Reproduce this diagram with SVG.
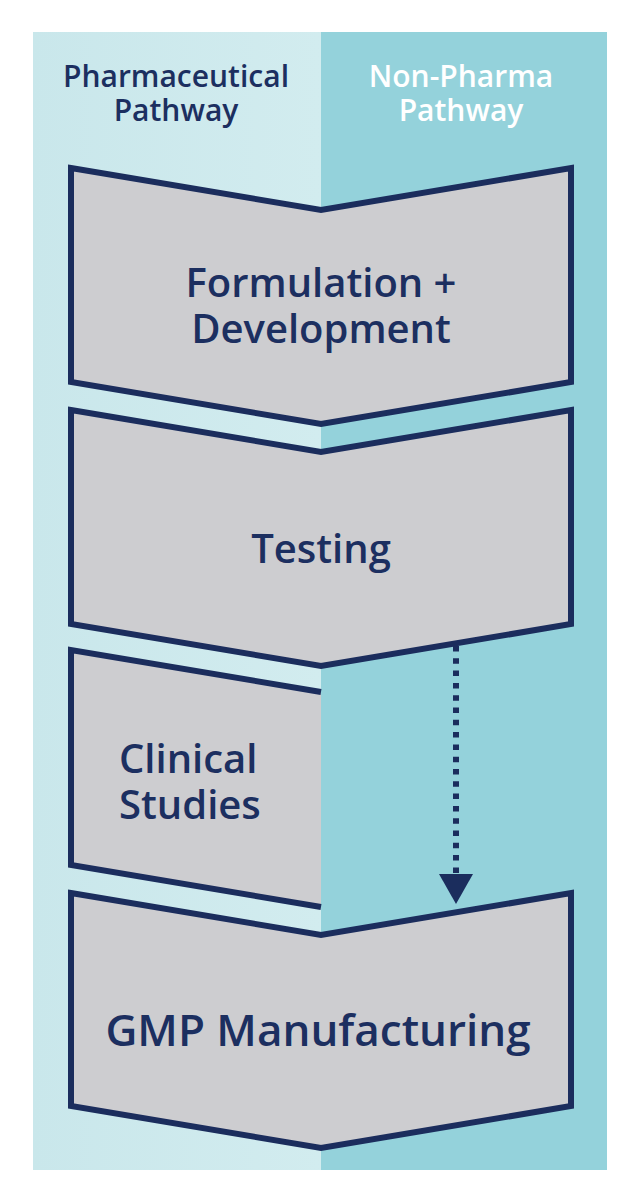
<svg xmlns="http://www.w3.org/2000/svg" width="640" height="1200" viewBox="0 0 640 1200">
  <defs>
    <linearGradient id="gLeft" x1="0" y1="0" x2="1" y2="0">
      <stop offset="0" stop-color="#c9e7eb"/>
      <stop offset="1" stop-color="#d2ecef"/>
    </linearGradient>
    <marker id="arrowHead" viewBox="0 0 30 34" refX="0" refY="17" markerWidth="30" markerHeight="34" markerUnits="userSpaceOnUse" orient="auto">
      <path d="M0,0 L30,17 L0,34 Z" fill="#1b2d5d"/>
    </marker>
    <style>
      .step { fill: #cdcdd0; stroke: #1b2d5d; stroke-width: 6; stroke-linejoin: miter; }
      .edge { fill: none; stroke: #1b2d5d; stroke-width: 6; stroke-linejoin: miter; }
      .label { font-family: "Open Sans", "Liberation Sans", sans-serif; font-weight: 600; fill: #1c2f60; text-anchor: middle; }
      .head { font-family: "Open Sans", "Liberation Sans", sans-serif; font-weight: 600; font-size: 30px; text-anchor: middle; }
    </style>
  </defs>

  <g id="background">
    <rect x="33" y="32" width="288" height="1138" fill="url(#gLeft)"/>
    <rect x="321" y="32" width="286" height="1138" fill="#94d2db"/>
  </g>

  <g id="header-pharma">
    <text class="head" x="176" y="87" fill="#1c2f60">Pharmaceutical</text>
    <text class="head" x="176" y="121" fill="#1c2f60">Pathway</text>
  </g>
  <g id="header-nonpharma">
    <text class="head" x="461" y="87" fill="#ffffff">Non-Pharma</text>
    <text class="head" x="461" y="121" fill="#ffffff">Pathway</text>
  </g>

  <g id="node-formulation">
    <polygon class="step" points="71,168 321,210 571,168 571,382 321,424 71,382"/>
    <text class="label" x="321" y="297" font-size="40">Formulation +</text>
    <text class="label" x="321" y="343" font-size="40">Development</text>
  </g>

  <g id="node-testing">
    <polygon class="step" points="71,410 321,452 571,410 571,624 321,666 71,624"/>
    <text class="label" x="321" y="563" font-size="40">Testing</text>
  </g>

  <g id="node-clinical">
    <polygon points="71,650 321,692 321,907 71,865" fill="#cdcdd0"/>
    <polyline class="edge" points="321,692 71,650 71,865 321,907"/>
    <text class="label" x="119" y="773" font-size="40" style="text-anchor:start">Clinical</text>
    <text class="label" x="119" y="819" font-size="40" style="text-anchor:start">Studies</text>
  </g>

  <g id="node-gmp">
    <polygon class="step" points="71,893 321,935 571,893 571,1106 321,1148 71,1106"/>
    <text class="label" x="318" y="1046" font-size="44">GMP Manufacturing</text>
  </g>

  <g id="connectors">
    <line x1="456" y1="646" x2="456" y2="874" stroke="#1b2d5d" stroke-width="6" stroke-dasharray="5.5 6.8" marker-end="url(#arrowHead)"/>
  </g>
</svg>
